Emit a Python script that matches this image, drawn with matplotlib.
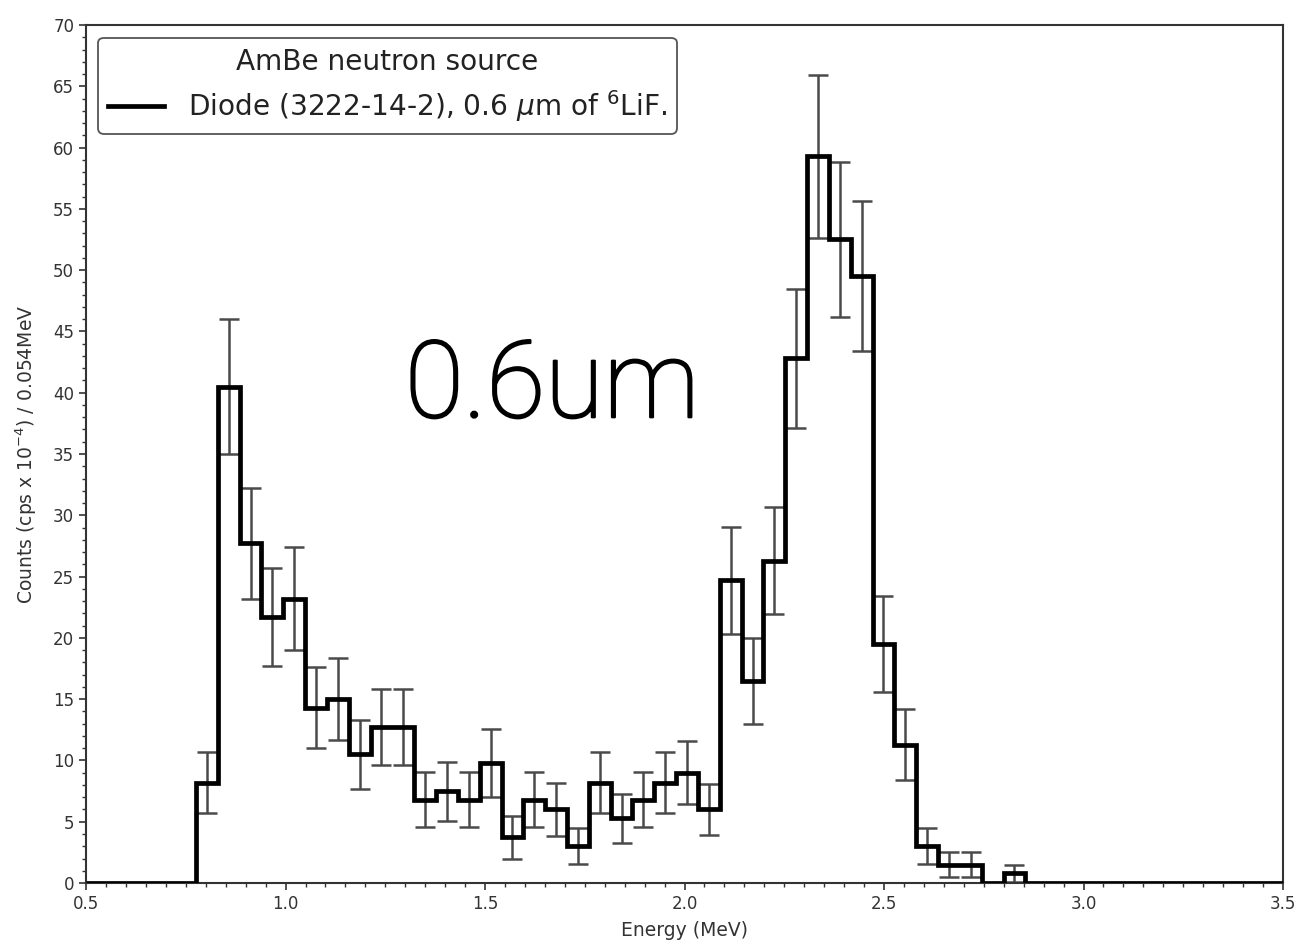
import numpy as np
import matplotlib.pyplot as plt
import matplotlib.patheffects as pe
from matplotlib.lines import Line2D
from matplotlib.ticker import MultipleLocator

# histogram (bins of ~0.054 MeV)
first_edge = 0.7755
bin_width = 0.0547
counts = [8.2, 40.5, 27.7, 21.7, 23.2, 14.3, 15.0, 10.5, 12.7, 12.7,
          6.8, 7.5, 6.8, 9.8, 3.75, 6.8, 6.0, 3.0, 8.2, 5.3,
          6.8, 8.2, 9.0, 6.0, 24.7, 16.5, 26.3, 42.8, 59.3, 52.5,
          49.5, 19.5, 11.3, 3.0, 1.5, 1.5, 0.0, 0.8]
errors = [2.5, 5.5, 4.55, 4.0, 4.2, 3.3, 3.35, 2.8, 3.1, 3.1,
          2.25, 2.4, 2.25, 2.75, 1.75, 2.25, 2.15, 1.45, 2.5, 2.0,
          2.25, 2.5, 2.55, 2.1, 4.35, 3.5, 4.35, 5.65, 6.65, 6.3,
          6.1, 3.9, 2.9, 1.45, 1.0, 1.0, 0.0, 0.7]

x_range = (0.5, 3.5)
y_range = (0, 70)
legend_title = 'AmBe neutron source'
legend_label = r'Diode (3222-14-2), 0.6 $\mu$m of $^6$LiF.'


def bin_edges(n):
    return first_edge + bin_width * np.arange(n + 1)


if __name__ == '__main__':
    counts = np.array(counts)
    errors = np.array(errors)
    edges = bin_edges(len(counts))
    centers = (edges[:-1] + edges[1:]) / 2

    # pad with empty bins so the line runs along zero to the axis ends
    all_edges = np.concatenate([[x_range[0]], edges, [x_range[1]]])
    all_counts = np.concatenate([[0], counts, [0]])

    fig = plt.figure(figsize=(12.96, 9.43), dpi=100)
    ax = fig.add_axes([0.0664, 0.0636, 0.9236, 0.9099])

    ax.stairs(all_counts, all_edges, color='black', linewidth=3.4, zorder=3)
    mask = errors > 0
    ax.errorbar(centers[mask], counts[mask], yerr=errors[mask], fmt='none',
                ecolor='#4a4a4a', elinewidth=1.8, capsize=7, capthick=1.8, zorder=2)

    ax.set_xlim(*x_range)
    ax.set_ylim(*y_range)
    ax.xaxis.set_major_locator(MultipleLocator(0.5))
    ax.xaxis.set_minor_locator(MultipleLocator(0.05))
    ax.yaxis.set_major_locator(MultipleLocator(5))
    ax.yaxis.set_minor_locator(MultipleLocator(1))
    ax.tick_params(which='major', labelsize=12, length=5, width=1.2, colors='#333333')
    ax.tick_params(which='minor', length=3, width=1.0, colors='#333333')
    for s in ax.spines.values():
        s.set_linewidth(1.5)
        s.set_color('#333333')

    ax.set_xlabel('Energy (MeV)', fontsize=13.5, labelpad=6, color='#333333')
    ax.set_ylabel(r'Counts (cps x $10^{-4}$) / 0.054MeV', fontsize=13.5, labelpad=10,
                  color='#333333')

    handle = Line2D([], [], color='black', linewidth=3.4)
    leg = ax.legend([handle], [legend_label], title=legend_title,
                    loc='upper left', bbox_to_anchor=(0.010, 0.985), borderaxespad=0,
                    fontsize=20.2, title_fontsize=20.2, frameon=True,
                    framealpha=1, edgecolor='#555555', fancybox=True,
                    handlelength=2.0, handletextpad=0.85,
                    borderpad=0.35, labelspacing=0.45)
    leg.get_frame().set_linewidth(1.3)
    for t in leg.get_texts() + [leg.get_title()]:
        t.set_color('#222222')

    ax.text(1.2995, 38.0, '0.6um', fontsize=77, family=['Roboto', 'DejaVu Sans'],
            fontweight='light', ha='left', va='baseline', color='black',
            path_effects=[pe.withStroke(linewidth=1.6, foreground='black')])

    fig.savefig('out.png', dpi=100)
